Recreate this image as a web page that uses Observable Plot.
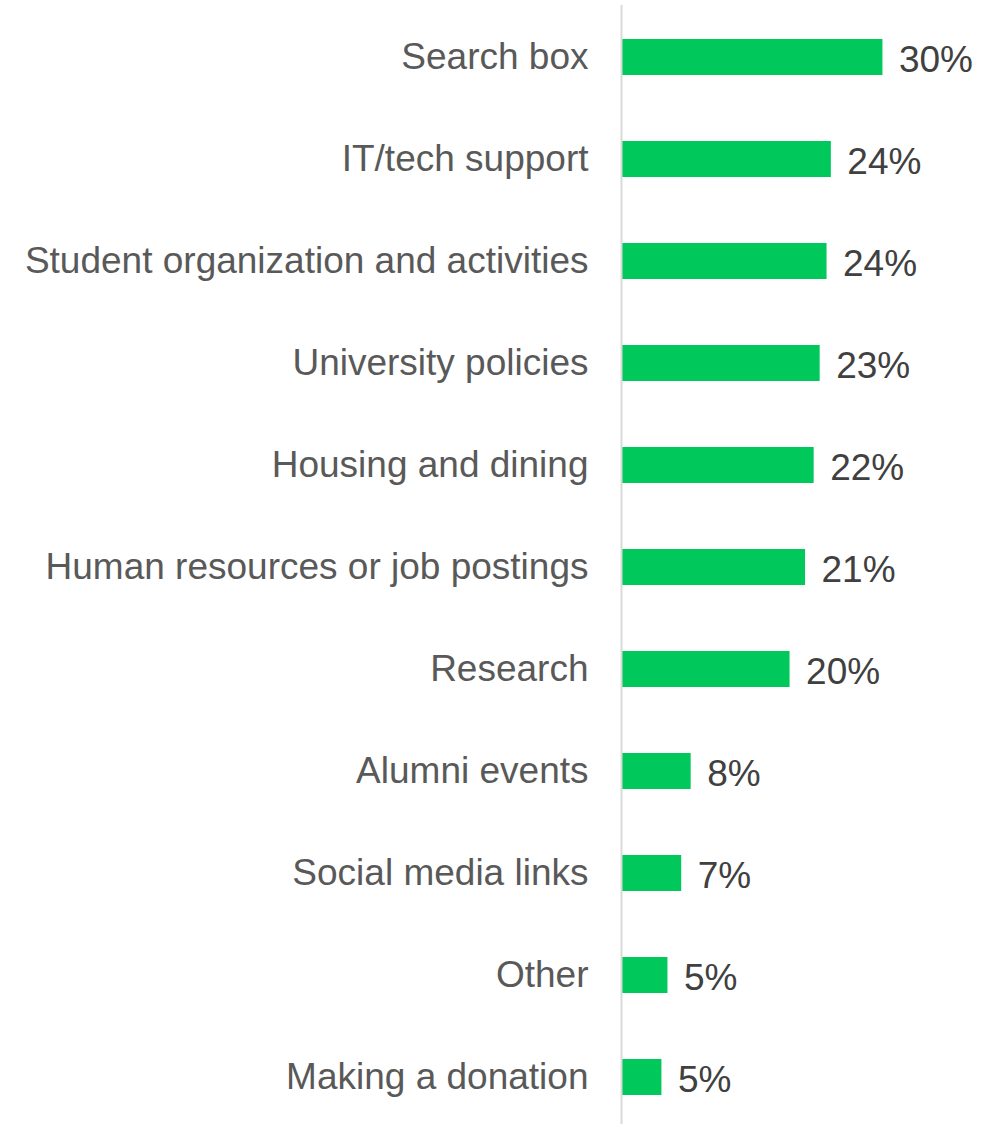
<!DOCTYPE html>
<html>
<head>
<meta charset="utf-8">
<script src="https://cdn.jsdelivr.net/npm/d3@7"></script>
<script src="https://cdn.jsdelivr.net/npm/@observablehq/plot@0.6"></script>
<style>
  html, body { margin: 0; padding: 0; background: #fff; }
  #chart svg { display: block; }
</style>
</head>
<body>
<div id="chart"></div>
<script>
const categories = [
  "Search box",
  "IT/tech support",
  "Student organization and activities",
  "University policies",
  "Housing and dining",
  "Human resources or job postings",
  "Research",
  "Alumni events",
  "Social media links",
  "Other",
  "Making a donation"
];
const values = [30.4, 24.4, 23.9, 23.1, 22.4, 21.4, 19.6, 8.1, 7.0, 5.4, 4.7];
const valueLabels = ["30%", "24%", "24%", "23%", "22%", "21%", "20%", "8%", "7%", "5%", "5%"];

const data = categories.map((c, i) => ({category: c, value: values[i], label: valueLabels[i]}));

const chart = Plot.plot({
  width: 989,
  height: 1124,
  marginLeft: 621,
  marginRight: 24,
  marginTop: 5,
  marginBottom: 0,
  style: {fontFamily: "'Liberation Sans', Arial, sans-serif", background: "#fff"},
  x: {domain: [0, 40], axis: null},
  y: {domain: categories, paddingInner: 0.6477, paddingOuter: 0.2995, align: 0.547, label: null},
  marks: [
    Plot.barX(data, {x: "value", y: "category", fill: "#00c85a"}),
    Plot.ruleX([0], {stroke: "#d9d9d9", strokeWidth: 2}),
    Plot.text(data, {x: "value", y: "category", text: "label", textAnchor: "start", dx: 16, dy: 3, fontSize: 37, fill: "#404040"}),
    Plot.axisY({tickSize: 0, tickPadding: 33, fontSize: 37, color: "#595959", label: null})
  ]
});
document.getElementById("chart").appendChild(chart);
</script>
</body>
</html>
